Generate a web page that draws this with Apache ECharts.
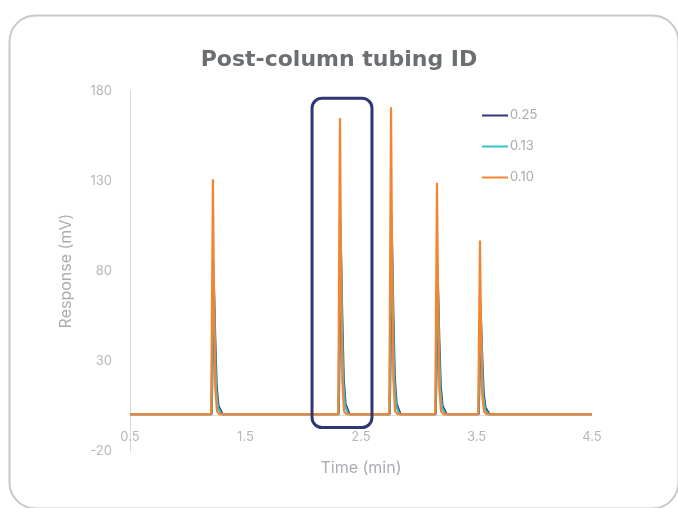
<!DOCTYPE html>
<html><head><meta charset="utf-8">
<script src="https://cdn.jsdelivr.net/npm/echarts@6/dist/echarts.min.js"></script>
<style>html,body{margin:0;padding:0;background:#fff}#c{width:678px;height:508px}</style>
</head><body><div id="c"></div>
<script>
var seriesNames = ['0.25', '0.13', '0.10'];
var seriesColors = ['#2f3673', '#35c2c4', '#f38532'];
var yTicks = [-20, 30, 80, 130, 180];
var xTicks = [0.5, 1.5, 2.5, 3.5, 4.5];
// [time (min), response (mV)]
var data025 = [[0.5,0.5],
  [1.207,0.5],[1.226,73],[1.238,42],[1.250,16],[1.266,5],[1.30,0.5],
  [2.307,0.5],[2.326,93],[2.338,53],[2.350,20],[2.366,6],[2.40,0.5],
  [2.749,0.5],[2.768,97],[2.780,55],[2.792,21],[2.808,6],[2.842,0.5],
  [3.147,0.5],[3.166,72],[3.178,41],[3.190,16],[3.206,5],[3.24,0.5],
  [3.519,0.5],[3.538,54],[3.550,31],[3.562,12],[3.578,4],[3.612,0.5],
  [4.5,0.5]];
var data013 = [[0.5,0.5],
  [1.205,0.5],[1.222,85],[1.234,45],[1.246,15],[1.262,4],[1.29,0.5],
  [2.305,0.5],[2.322,108],[2.334,57],[2.346,19],[2.362,5],[2.39,0.5],
  [2.747,0.5],[2.764,112],[2.776,59],[2.788,20],[2.804,5],[2.832,0.5],
  [3.145,0.5],[3.162,84],[3.174,44],[3.186,15],[3.202,4],[3.23,0.5],
  [3.517,0.5],[3.534,63],[3.546,33],[3.558,11],[3.574,3],[3.602,0.5],
  [4.5,0.5]];
var data010 = [[0.5,0.5],
  [1.203,0.5],[1.218,131],[1.228,58],[1.238,15],[1.253,2],[1.273,0.5],
  [2.303,0.5],[2.318,165],[2.328,74],[2.338,19],[2.353,2],[2.373,0.5],
  [2.745,0.5],[2.760,171],[2.770,77],[2.780,20],[2.795,2],[2.815,0.5],
  [3.143,0.5],[3.158,129],[3.168,58],[3.178,15],[3.193,2],[3.213,0.5],
  [3.515,0.5],[3.530,97],[3.540,44],[3.550,11],[3.565,2],[3.585,0.5],
  [4.5,0.5]];
var highlightBox = {x0: 2.076, x1: 2.595, y0: -7, y1: 176};

var chart = echarts.init(document.getElementById('c'));
var font = 'Inter, "Open Sans", sans-serif';
var allData = [data025, data013, data010];
var gridBottom = 57;
var option = {
  animation: false,
  title: {
    text: 'Post-column tubing ID', left: 'center', top: 44,
    textStyle: {fontFamily: '"DejaVu Sans", sans-serif', fontSize: 22, fontWeight: 'bold', color: '#6b6f72'}
  },
  legend: {
    orient: 'vertical', left: 477, top: 104, itemWidth: 26, itemHeight: 14, itemGap: 18,
    icon: 'path://M0,6 L26,6 L26,8 L0,8 Z',
    textStyle: {fontFamily: font, fontSize: 13, color: '#a9adb1', padding: [0,0,0,-3]},
    data: seriesNames.slice()
  },
  grid: {left: 130, right: 86, top: 91, bottom: gridBottom, outerBoundsMode: 'none', containLabel: false},
  xAxis: {
    type: 'value', min: xTicks[0], max: xTicks[xTicks.length-1], interval: 1,
    name: 'Time (min)', nameLocation: 'middle', nameGap: 45,
    nameTextStyle: {fontFamily: font, fontSize: 16, color: '#a9adb1'},
    axisLine: {onZero: false, lineStyle: {color: '#dcdcdc', width: 1}},
    axisTick: {show: false}, splitLine: {show: false},
    axisLabel: {margin: 16, fontFamily: font, fontSize: 13, color: '#b3b7bb',
      formatter: function(v){ return v.toFixed(1); }}
  },
  yAxis: {
    type: 'value', min: yTicks[0], max: yTicks[yTicks.length-1], interval: 50,
    name: 'Response (mV)', nameLocation: 'middle', nameGap: 56, nameRotate: 90,
    nameTextStyle: {fontFamily: font, fontSize: 16, color: '#a9adb1'},
    axisLine: {show: true, lineStyle: {color: '#d6d6d6', width: 1}},
    axisTick: {show: false}, splitLine: {show: false},
    axisLabel: {margin: 18, fontFamily: font, fontSize: 13, color: '#b3b7bb'}
  },
  series: seriesNames.map(function(n, i){
    return {name: n, type: 'line', data: allData[i], showSymbol: false, symbol: 'none',
      color: seriesColors[i], lineStyle: {width: 2.2, color: seriesColors[i]}, z: 2 + i};
  })
};
chart.setOption(option);
// move the x axis to cross the y axis at 0 (Excel-like)
var yZero = chart.convertToPixel({yAxisIndex: 0}, 0);
var gridBottomPx = 508 - gridBottom;
chart.setOption({xAxis: {offset: -(gridBottomPx - yZero)}});
var p0 = chart.convertToPixel({gridIndex: 0}, [highlightBox.x0, highlightBox.y1]);
var p1 = chart.convertToPixel({gridIndex: 0}, [highlightBox.x1, highlightBox.y0]);
chart.setOption({graphic: [
  {type: 'rect', left: 7, top: 13, shape: {width: 669, height: 493, r: 26},
    style: {fill: 'none', stroke: '#c6c8c9', lineWidth: 2}, silent: true, z: 0},
  {type: 'rect', shape: {x: p0[0], y: p0[1], width: p1[0]-p0[0], height: p1[1]-p0[1], r: 10},
    style: {fill: 'none', stroke: '#2f3673', lineWidth: 3}, silent: true, z: 100}
]});
</script></body></html>
